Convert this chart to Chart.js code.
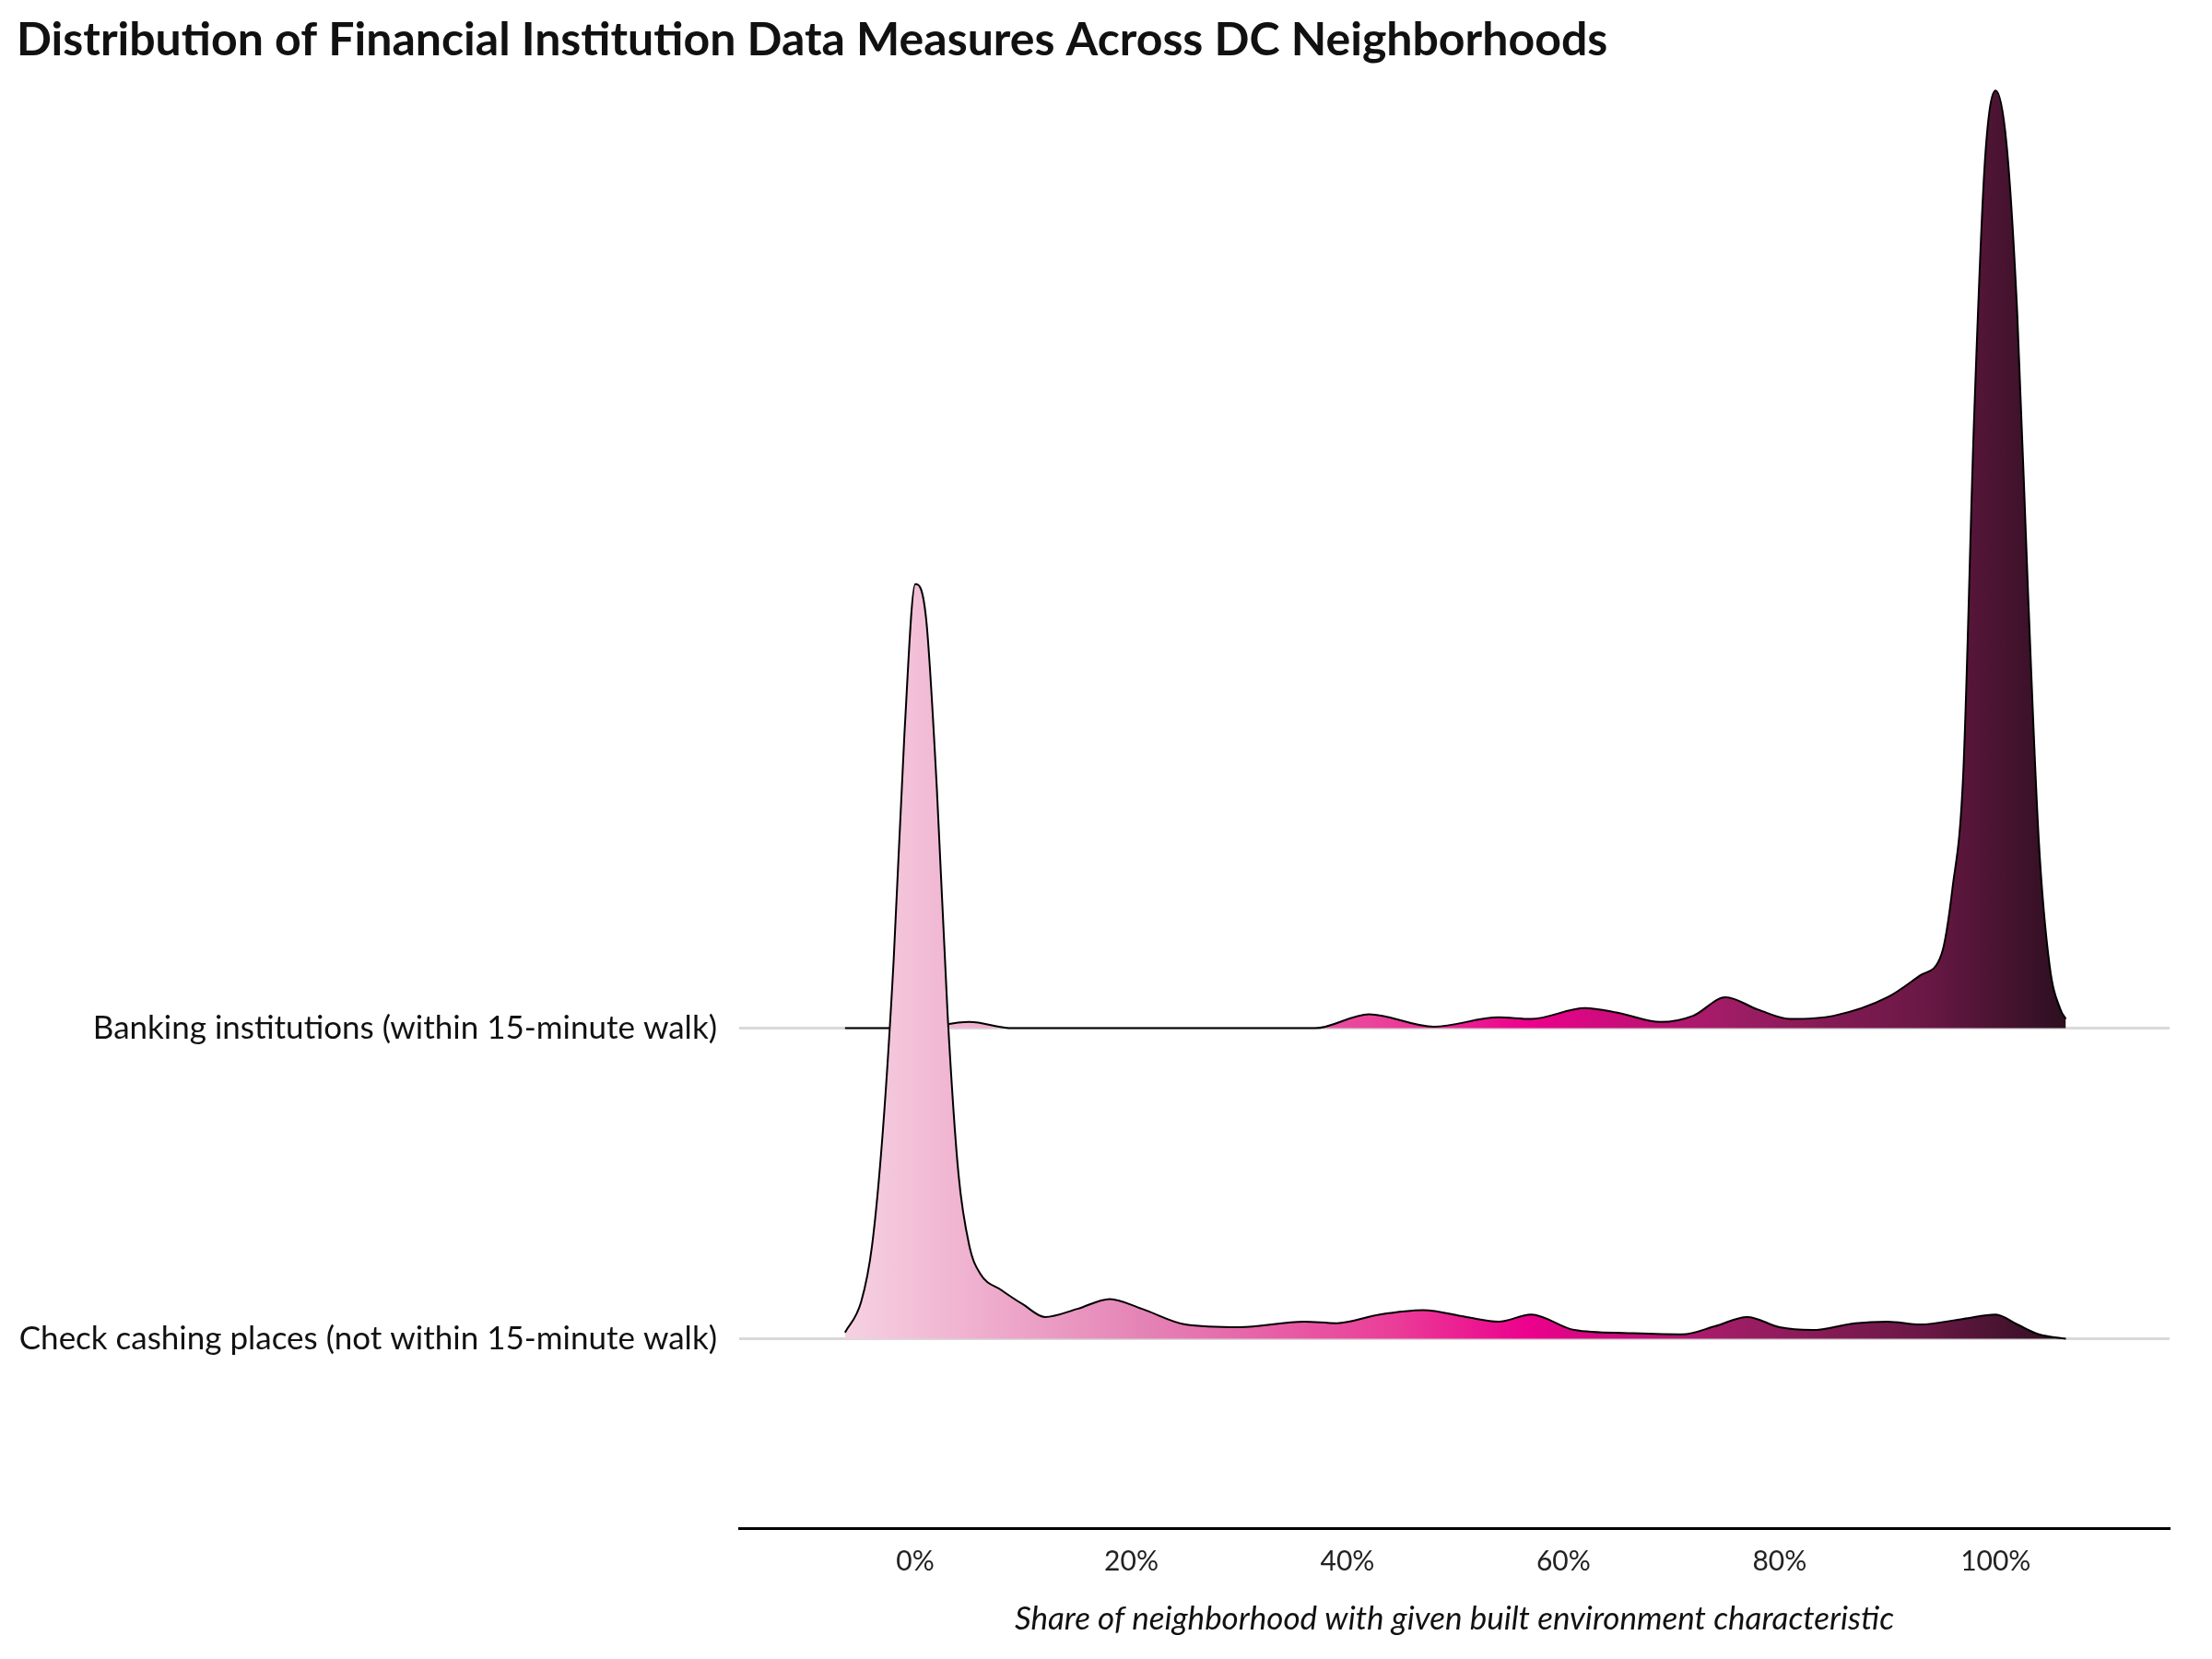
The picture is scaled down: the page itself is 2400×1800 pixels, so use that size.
<!DOCTYPE html>
<html>
<head>
<meta charset="utf-8">
<script src="https://cdn.jsdelivr.net/npm/chart.js@4.4.0/dist/chart.umd.min.js"></script>
<style>
  html, body { margin: 0; padding: 0; background: #fff; }
  #wrap { width: 2400px; height: 1800px; }
</style>
</head>
<body>
<div id="wrap"><canvas id="ridge"></canvas></div>
<script>
  "use strict";

  // Row labels (bottom row = 0, next row = 1)
  const rowLabels = [
    "Check cashing places (not within 15-minute walk)",
    "Banking institutions (within 15-minute walk)"
  ];

  // Density curves: share (%) and height above row baseline
  const checkX = [-6.5, -5, -4, -3, -2, -1, 0, 1, 2, 3, 4, 5, 6, 8, 10, 12, 15, 18, 21, 25, 30, 36, 39, 43, 47, 51, 54, 57, 61, 66, 71, 74, 77, 80, 83, 87, 90, 93, 97, 100, 102, 104, 106.5];
  const checkY = [0.02, 0.12, 0.3, 0.67, 1.22, 1.95, 2.43, 2.32, 1.77, 1.04, 0.53, 0.3, 0.21, 0.156, 0.11, 0.07, 0.096, 0.128, 0.096, 0.046, 0.037, 0.055, 0.05, 0.078, 0.092, 0.07, 0.055, 0.078, 0.028, 0.018, 0.014, 0.04, 0.07, 0.037, 0.028, 0.05, 0.055, 0.046, 0.064, 0.078, 0.046, 0.014, 0];

  const bankX = [-6.5, 0, 5, 9, 37, 42, 48, 54, 57, 62, 65, 69, 72, 75, 78, 81, 85, 90, 93, 95, 96, 97, 98, 99, 100, 101, 102, 103, 104, 105, 106, 106.5];
  const bankY = [0, 0, 0.02, 0, 0, 0.045, 0.005, 0.035, 0.03, 0.065, 0.05, 0.02, 0.04, 0.1, 0.06, 0.03, 0.04, 0.1, 0.17, 0.24, 0.45, 0.82, 1.96, 2.79, 3.02, 2.85, 2.3, 1.4, 0.6, 0.2, 0.06, 0.03];

  const xTicks = [0, 20, 40, 60, 80, 100];

  const FONT = "Lato, 'Open Sans', sans-serif";

  function toPoints(xs, ys, base) {
    return xs.map((x, i) => ({ x: x, y: base + ys[i] }));
  }

  // Horizontal colour ramp keyed to the x scale
  function rampFill(context) {
    const chart = context.chart;
    const area = chart.chartArea;
    if (!area) return "#e07fb4";
    const xs = chart.scales.x;
    const x0 = xs.getPixelForValue(-7);
    const x1 = xs.getPixelForValue(107);
    const g = chart.ctx.createLinearGradient(x0, 0, x1, 0);
    g.addColorStop(0.0, "#f6d3e3");
    g.addColorStop(0.1, "#f0b3d0");
    g.addColorStop(0.25, "#e482b5");
    g.addColorStop(0.45, "#ea3d98");
    g.addColorStop(0.56, "#ec008c");
    g.addColorStop(0.72, "#a01d66");
    g.addColorStop(0.88, "#6a1845");
    g.addColorStop(1.0, "#2a0f1e");
    return g;
  }

  new Chart(document.getElementById("ridge"), {
    type: "line",
    data: {
      datasets: [
        {
          label: rowLabels[0],
          data: toPoints(checkX, checkY, 0),
          borderColor: "#000",
          borderWidth: 2,
          backgroundColor: rampFill,
          fill: { value: 0 },
          pointRadius: 0,
          cubicInterpolationMode: "monotone"
        },
        {
          label: rowLabels[1],
          data: toPoints(bankX, bankY, 1),
          borderColor: "#000",
          borderWidth: 2,
          backgroundColor: rampFill,
          fill: { value: 1 },
          pointRadius: 0,
          cubicInterpolationMode: "monotone"
        }
      ]
    },
    options: {
      responsive: true,
      maintainAspectRatio: false,
      animation: false,
      layout: { padding: { left: 18, right: 46, bottom: 22 } },
      plugins: {
        legend: { display: false },
        tooltip: { enabled: false },
        title: {
          display: true,
          text: "Distribution of Financial Institution Data Measures Across DC Neighborhoods",
          align: "start",
          color: "#111",
          font: { family: FONT, size: 50, weight: "bold" },
          padding: { top: 14, bottom: 4 }
        }
      },
      scales: {
        x: {
          type: "linear",
          min: -16.3,
          max: 116.1,
          afterBuildTicks: (axis) => { axis.ticks = xTicks.map(v => ({ value: v })); },
          grid: { display: false, drawTicks: true, tickLength: 8 },
          border: { display: true, color: "#000", width: 3 },
          ticks: {
            color: "#222",
            font: { family: FONT, size: 30 },
            padding: 10,
            callback: (v) => v + "%"
          },
          title: {
            display: true,
            text: "Share of neighborhood with given built environment characteristic",
            color: "#111",
            font: { family: FONT, size: 35, style: "italic" },
            padding: { top: 14, bottom: 0 }
          }
        },
        y: {
          type: "linear",
          min: -0.61,
          max: 4.08,
          afterFit: (axis) => { axis.width = 784; },
          afterBuildTicks: (axis) => { axis.ticks = [{ value: 0 }, { value: 1 }]; },
          border: { display: false },
          grid: { color: "#d9d9d9", lineWidth: 3, drawTicks: false },
          ticks: {
            color: "#111",
            font: { family: FONT, size: 35 },
            padding: 24,
            callback: (v) => rowLabels[v]
          }
        }
      }
    }
  });
</script>
</body>
</html>
